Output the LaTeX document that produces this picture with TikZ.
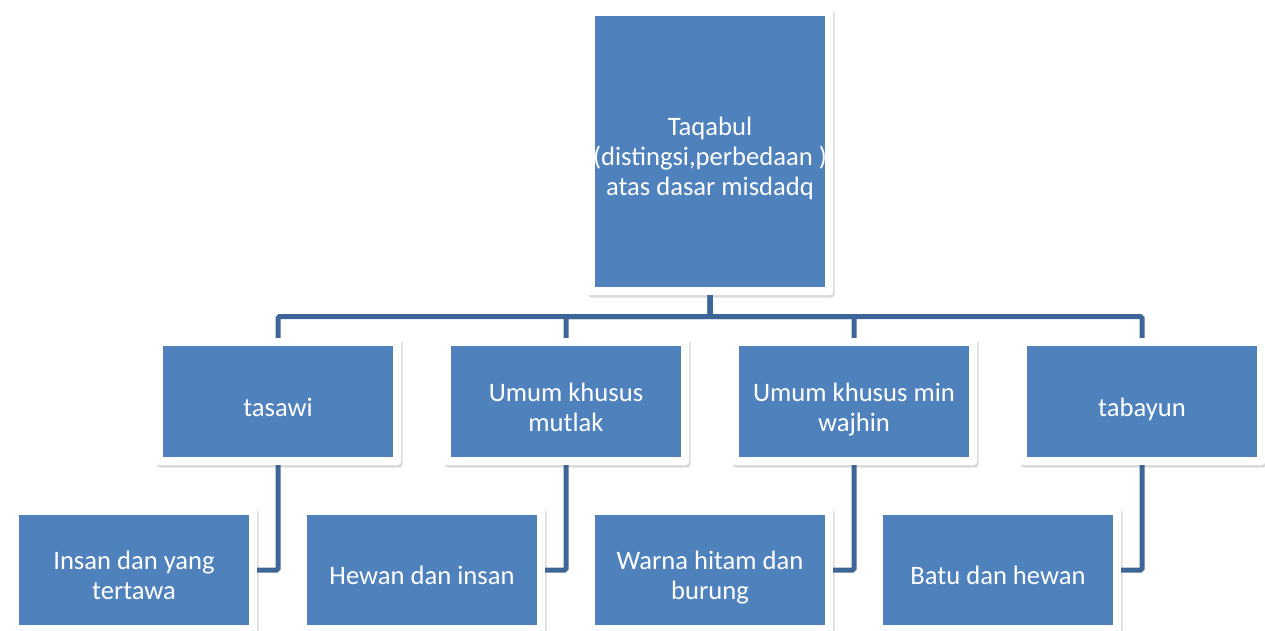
\documentclass[tikz,border=0pt]{standalone}
\usepackage{fontspec}
\setmainfont{Carlito}
\usetikzlibrary{shadows}

\definecolor{boxblue}{RGB}{79,129,189}
\definecolor{linkblue}{RGB}{62,101,152}

% text of a box, set a little below the middle
\newcommand\boxlines[1]{\raisebox{0pt}[\dimexpr\height+17pt\relax][\depth]{%
  \begin{tabular}{@{}c@{}}#1\end{tabular}}}

\tikzset{
  frame_box/.style={fill=white, rounded corners=3pt, inner sep=0pt,
    drop shadow={shadow xshift=1.5pt, shadow yshift=-2.5pt, opacity=.3},
    minimum width=246pt, text=white,
    font=\fontsize{26.6}{30}\selectfont,
    path picture={\fill[boxblue,sharp corners]
      ([shift={(8pt,8pt)}]path picture bounding box.south west) rectangle
      ([shift={(-8pt,-8pt)}]path picture bounding box.north east);}},
  top_box/.style={frame_box, minimum height=287pt},
  mid_box/.style={frame_box, minimum height=127pt},
  leaf_box/.style={frame_box, minimum height=126pt},
}

\begin{document}
\begin{tikzpicture}[
  x=1pt, y=-1pt,
  link/.style={draw=linkblue, line width=5pt, rounded corners=1.5pt},
  ]

  \useasboundingbox (0,0) rectangle (1265,631);

  % root
  \node[top_box] (taqabul) at (710,151.5)
       {\boxlines{Taqabul\\(distingsi,perbedaan )\\atas dasar misdadq}};

  % second level
  \node[mid_box] (tasawi)  at (278,401.5)  {\boxlines{tasawi}};
  \node[mid_box] (mutlak)  at (566,401.5)  {\boxlines{Umum khusus\\mutlak}};
  \node[mid_box] (wajhin)  at (854,401.5)  {\boxlines{Umum khusus min\\wajhin}};
  \node[mid_box] (tabayun) at (1142,401.5) {\boxlines{tabayun}};

  % examples
  \node[leaf_box] (insan) at (134,570) {\boxlines{Insan dan yang\\tertawa}};
  \node[leaf_box] (hewan) at (422,570) {\boxlines{Hewan dan insan}};
  \node[leaf_box] (warna) at (710,570) {\boxlines{Warna hitam dan\\burung}};
  \node[leaf_box] (batu)  at (998,570) {\boxlines{Batu dan hewan}};

  \foreach \Kid in {tasawi,mutlak,wajhin,tabayun}{
    \draw[link] (taqabul.south) -- ++(0,21.5) -| (\Kid.north);
  }

  \foreach \Kid/\Leaf in {tasawi/insan,mutlak/hewan,wajhin/warna,tabayun/batu}{
    \draw[link] (\Kid.south) |- (\Leaf.east);
  }

\end{tikzpicture}
\end{document}
